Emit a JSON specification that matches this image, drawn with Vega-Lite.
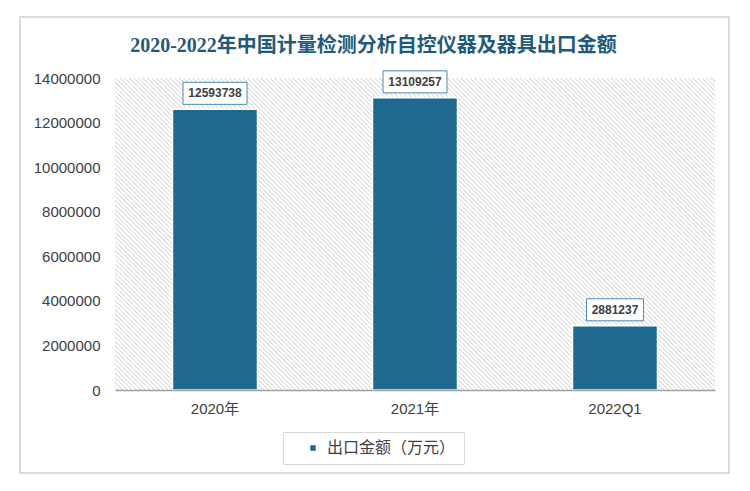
{
  "$schema": "https://vega.github.io/schema/vega-lite/v6.json",
  "autosize": {"type": "none"},
  "width": 709,
  "height": 456,
  "padding": {"left": 20, "top": 17, "right": 21, "bottom": 18},
  "background": "white",
  "config": {
    "view": {"stroke": "#d0d0d0", "strokeWidth": 1.5, "fill": "white"},
    "font": "Liberation Sans"
  },
  "title": {
    "text": "2020-2022年中国计量检测分析自控仪器及器具出口金额",
    "anchor": "middle",
    "frame": "group",
    "orient": "top",
    "offset": -39,
    "dx": -1,
    "fontSize": 20,
    "font": "Liberation Serif, Noto Sans CJK SC",
    "fontWeight": "bold",
    "color": "#1f5a7d"
  },
  "data": {
    "values": [
      {"cat": "2020年", "value": 12593738},
      {"cat": "2021年", "value": 13109257},
      {"cat": "2022Q1", "value": 2881237}
    ]
  },
  "encoding": {
    "x": {
      "field": "cat",
      "type": "nominal",
      "sort": null,
      "scale": {"range": [95, 695], "paddingInner": 0, "paddingOuter": 0},
      "axis": {
        "title": null,
        "offset": -83,
        "labelAngle": 0,
        "labelFontSize": 15,
        "labelColor": "#404040",
        "labelFont": "Liberation Sans, Noto Sans CJK SC",
        "labelPadding": 11,
        "ticks": false,
        "domainColor": "#a0a0a0",
        "domainWidth": 1.5,
        "grid": false
      }
    }
  },
  "layer": [
    {
      "mark": {
        "type": "rect",
        "fill": {
          "gradient": "linear",
          "x1": 0, "y1": 1, "x2": 0.8274, "y2": -0.2907,
          "stops": [
{"offset":0,"color":"#fff"},{"offset":0.004,"color":"#fff"},{"offset":0.006,"color":"#d2d2d2"},
{"offset":0.008,"color":"#fff"},{"offset":0.012,"color":"#fff"},{"offset":0.014,"color":"#d2d2d2"},
{"offset":0.016,"color":"#fff"},{"offset":0.02,"color":"#fff"},{"offset":0.022,"color":"#d2d2d2"},
{"offset":0.024,"color":"#fff"},{"offset":0.028,"color":"#fff"},{"offset":0.03,"color":"#d2d2d2"},
{"offset":0.032,"color":"#fff"},{"offset":0.036,"color":"#fff"},{"offset":0.038,"color":"#d2d2d2"},
{"offset":0.04,"color":"#fff"},{"offset":0.044,"color":"#fff"},{"offset":0.046,"color":"#d2d2d2"},
{"offset":0.048,"color":"#fff"},{"offset":0.052,"color":"#fff"},{"offset":0.054,"color":"#d2d2d2"},
{"offset":0.056,"color":"#fff"},{"offset":0.06,"color":"#fff"},{"offset":0.062,"color":"#d2d2d2"},
{"offset":0.064,"color":"#fff"},{"offset":0.068,"color":"#fff"},{"offset":0.07,"color":"#d2d2d2"},
{"offset":0.072,"color":"#fff"},{"offset":0.076,"color":"#fff"},{"offset":0.078,"color":"#d2d2d2"},
{"offset":0.08,"color":"#fff"},{"offset":0.084,"color":"#fff"},{"offset":0.086,"color":"#d2d2d2"},
{"offset":0.088,"color":"#fff"},{"offset":0.092,"color":"#fff"},{"offset":0.094,"color":"#d2d2d2"},
{"offset":0.096,"color":"#fff"},{"offset":0.1,"color":"#fff"},{"offset":0.102,"color":"#d2d2d2"},
{"offset":0.104,"color":"#fff"},{"offset":0.108,"color":"#fff"},{"offset":0.11,"color":"#d2d2d2"},
{"offset":0.112,"color":"#fff"},{"offset":0.116,"color":"#fff"},{"offset":0.118,"color":"#d2d2d2"},
{"offset":0.12,"color":"#fff"},{"offset":0.124,"color":"#fff"},{"offset":0.126,"color":"#d2d2d2"},
{"offset":0.128,"color":"#fff"},{"offset":0.132,"color":"#fff"},{"offset":0.134,"color":"#d2d2d2"},
{"offset":0.136,"color":"#fff"},{"offset":0.14,"color":"#fff"},{"offset":0.142,"color":"#d2d2d2"},
{"offset":0.144,"color":"#fff"},{"offset":0.148,"color":"#fff"},{"offset":0.15,"color":"#d2d2d2"},
{"offset":0.152,"color":"#fff"},{"offset":0.156,"color":"#fff"},{"offset":0.158,"color":"#d2d2d2"},
{"offset":0.16,"color":"#fff"},{"offset":0.164,"color":"#fff"},{"offset":0.166,"color":"#d2d2d2"},
{"offset":0.168,"color":"#fff"},{"offset":0.172,"color":"#fff"},{"offset":0.174,"color":"#d2d2d2"},
{"offset":0.176,"color":"#fff"},{"offset":0.18,"color":"#fff"},{"offset":0.182,"color":"#d2d2d2"},
{"offset":0.184,"color":"#fff"},{"offset":0.188,"color":"#fff"},{"offset":0.19,"color":"#d2d2d2"},
{"offset":0.192,"color":"#fff"},{"offset":0.196,"color":"#fff"},{"offset":0.198,"color":"#d2d2d2"},
{"offset":0.2,"color":"#fff"},{"offset":0.204,"color":"#fff"},{"offset":0.206,"color":"#d2d2d2"},
{"offset":0.208,"color":"#fff"},{"offset":0.212,"color":"#fff"},{"offset":0.214,"color":"#d2d2d2"},
{"offset":0.216,"color":"#fff"},{"offset":0.22,"color":"#fff"},{"offset":0.222,"color":"#d2d2d2"},
{"offset":0.224,"color":"#fff"},{"offset":0.228,"color":"#fff"},{"offset":0.23,"color":"#d2d2d2"},
{"offset":0.232,"color":"#fff"},{"offset":0.236,"color":"#fff"},{"offset":0.238,"color":"#d2d2d2"},
{"offset":0.24,"color":"#fff"},{"offset":0.244,"color":"#fff"},{"offset":0.246,"color":"#d2d2d2"},
{"offset":0.248,"color":"#fff"},{"offset":0.252,"color":"#fff"},{"offset":0.254,"color":"#d2d2d2"},
{"offset":0.256,"color":"#fff"},{"offset":0.26,"color":"#fff"},{"offset":0.262,"color":"#d2d2d2"},
{"offset":0.264,"color":"#fff"},{"offset":0.268,"color":"#fff"},{"offset":0.27,"color":"#d2d2d2"},
{"offset":0.272,"color":"#fff"},{"offset":0.276,"color":"#fff"},{"offset":0.278,"color":"#d2d2d2"},
{"offset":0.28,"color":"#fff"},{"offset":0.284,"color":"#fff"},{"offset":0.286,"color":"#d2d2d2"},
{"offset":0.288,"color":"#fff"},{"offset":0.292,"color":"#fff"},{"offset":0.294,"color":"#d2d2d2"},
{"offset":0.296,"color":"#fff"},{"offset":0.3,"color":"#fff"},{"offset":0.302,"color":"#d2d2d2"},
{"offset":0.304,"color":"#fff"},{"offset":0.308,"color":"#fff"},{"offset":0.31,"color":"#d2d2d2"},
{"offset":0.312,"color":"#fff"},{"offset":0.316,"color":"#fff"},{"offset":0.318,"color":"#d2d2d2"},
{"offset":0.32,"color":"#fff"},{"offset":0.324,"color":"#fff"},{"offset":0.326,"color":"#d2d2d2"},
{"offset":0.328,"color":"#fff"},{"offset":0.332,"color":"#fff"},{"offset":0.334,"color":"#d2d2d2"},
{"offset":0.336,"color":"#fff"},{"offset":0.34,"color":"#fff"},{"offset":0.342,"color":"#d2d2d2"},
{"offset":0.344,"color":"#fff"},{"offset":0.348,"color":"#fff"},{"offset":0.35,"color":"#d2d2d2"},
{"offset":0.352,"color":"#fff"},{"offset":0.356,"color":"#fff"},{"offset":0.358,"color":"#d2d2d2"},
{"offset":0.36,"color":"#fff"},{"offset":0.364,"color":"#fff"},{"offset":0.366,"color":"#d2d2d2"},
{"offset":0.368,"color":"#fff"},{"offset":0.372,"color":"#fff"},{"offset":0.374,"color":"#d2d2d2"},
{"offset":0.376,"color":"#fff"},{"offset":0.38,"color":"#fff"},{"offset":0.382,"color":"#d2d2d2"},
{"offset":0.384,"color":"#fff"},{"offset":0.388,"color":"#fff"},{"offset":0.39,"color":"#d2d2d2"},
{"offset":0.392,"color":"#fff"},{"offset":0.396,"color":"#fff"},{"offset":0.398,"color":"#d2d2d2"},
{"offset":0.4,"color":"#fff"},{"offset":0.404,"color":"#fff"},{"offset":0.406,"color":"#d2d2d2"},
{"offset":0.408,"color":"#fff"},{"offset":0.412,"color":"#fff"},{"offset":0.414,"color":"#d2d2d2"},
{"offset":0.416,"color":"#fff"},{"offset":0.42,"color":"#fff"},{"offset":0.422,"color":"#d2d2d2"},
{"offset":0.424,"color":"#fff"},{"offset":0.428,"color":"#fff"},{"offset":0.43,"color":"#d2d2d2"},
{"offset":0.432,"color":"#fff"},{"offset":0.436,"color":"#fff"},{"offset":0.438,"color":"#d2d2d2"},
{"offset":0.44,"color":"#fff"},{"offset":0.444,"color":"#fff"},{"offset":0.446,"color":"#d2d2d2"},
{"offset":0.448,"color":"#fff"},{"offset":0.452,"color":"#fff"},{"offset":0.454,"color":"#d2d2d2"},
{"offset":0.456,"color":"#fff"},{"offset":0.46,"color":"#fff"},{"offset":0.462,"color":"#d2d2d2"},
{"offset":0.464,"color":"#fff"},{"offset":0.468,"color":"#fff"},{"offset":0.47,"color":"#d2d2d2"},
{"offset":0.472,"color":"#fff"},{"offset":0.476,"color":"#fff"},{"offset":0.478,"color":"#d2d2d2"},
{"offset":0.48,"color":"#fff"},{"offset":0.484,"color":"#fff"},{"offset":0.486,"color":"#d2d2d2"},
{"offset":0.488,"color":"#fff"},{"offset":0.492,"color":"#fff"},{"offset":0.494,"color":"#d2d2d2"},
{"offset":0.496,"color":"#fff"},{"offset":0.5,"color":"#fff"},{"offset":0.502,"color":"#d2d2d2"},
{"offset":0.504,"color":"#fff"},{"offset":0.508,"color":"#fff"},{"offset":0.51,"color":"#d2d2d2"},
{"offset":0.512,"color":"#fff"},{"offset":0.516,"color":"#fff"},{"offset":0.518,"color":"#d2d2d2"},
{"offset":0.52,"color":"#fff"},{"offset":0.524,"color":"#fff"},{"offset":0.526,"color":"#d2d2d2"},
{"offset":0.528,"color":"#fff"},{"offset":0.532,"color":"#fff"},{"offset":0.534,"color":"#d2d2d2"},
{"offset":0.536,"color":"#fff"},{"offset":0.54,"color":"#fff"},{"offset":0.542,"color":"#d2d2d2"},
{"offset":0.544,"color":"#fff"},{"offset":0.548,"color":"#fff"},{"offset":0.55,"color":"#d2d2d2"},
{"offset":0.552,"color":"#fff"},{"offset":0.556,"color":"#fff"},{"offset":0.558,"color":"#d2d2d2"},
{"offset":0.56,"color":"#fff"},{"offset":0.564,"color":"#fff"},{"offset":0.566,"color":"#d2d2d2"},
{"offset":0.568,"color":"#fff"},{"offset":0.572,"color":"#fff"},{"offset":0.574,"color":"#d2d2d2"},
{"offset":0.576,"color":"#fff"},{"offset":0.58,"color":"#fff"},{"offset":0.582,"color":"#d2d2d2"},
{"offset":0.584,"color":"#fff"},{"offset":0.588,"color":"#fff"},{"offset":0.59,"color":"#d2d2d2"},
{"offset":0.592,"color":"#fff"},{"offset":0.596,"color":"#fff"},{"offset":0.598,"color":"#d2d2d2"},
{"offset":0.6,"color":"#fff"},{"offset":0.604,"color":"#fff"},{"offset":0.606,"color":"#d2d2d2"},
{"offset":0.608,"color":"#fff"},{"offset":0.612,"color":"#fff"},{"offset":0.614,"color":"#d2d2d2"},
{"offset":0.616,"color":"#fff"},{"offset":0.62,"color":"#fff"},{"offset":0.622,"color":"#d2d2d2"},
{"offset":0.624,"color":"#fff"},{"offset":0.628,"color":"#fff"},{"offset":0.63,"color":"#d2d2d2"},
{"offset":0.632,"color":"#fff"},{"offset":0.636,"color":"#fff"},{"offset":0.638,"color":"#d2d2d2"},
{"offset":0.64,"color":"#fff"},{"offset":0.644,"color":"#fff"},{"offset":0.646,"color":"#d2d2d2"},
{"offset":0.648,"color":"#fff"},{"offset":0.652,"color":"#fff"},{"offset":0.654,"color":"#d2d2d2"},
{"offset":0.656,"color":"#fff"},{"offset":0.66,"color":"#fff"},{"offset":0.662,"color":"#d2d2d2"},
{"offset":0.664,"color":"#fff"},{"offset":0.668,"color":"#fff"},{"offset":0.67,"color":"#d2d2d2"},
{"offset":0.672,"color":"#fff"},{"offset":0.676,"color":"#fff"},{"offset":0.678,"color":"#d2d2d2"},
{"offset":0.68,"color":"#fff"},{"offset":0.684,"color":"#fff"},{"offset":0.686,"color":"#d2d2d2"},
{"offset":0.688,"color":"#fff"},{"offset":0.692,"color":"#fff"},{"offset":0.694,"color":"#d2d2d2"},
{"offset":0.696,"color":"#fff"},{"offset":0.7,"color":"#fff"},{"offset":0.702,"color":"#d2d2d2"},
{"offset":0.704,"color":"#fff"},{"offset":0.708,"color":"#fff"},{"offset":0.71,"color":"#d2d2d2"},
{"offset":0.712,"color":"#fff"},{"offset":0.716,"color":"#fff"},{"offset":0.718,"color":"#d2d2d2"},
{"offset":0.72,"color":"#fff"},{"offset":0.724,"color":"#fff"},{"offset":0.726,"color":"#d2d2d2"},
{"offset":0.728,"color":"#fff"},{"offset":0.732,"color":"#fff"},{"offset":0.734,"color":"#d2d2d2"},
{"offset":0.736,"color":"#fff"},{"offset":0.74,"color":"#fff"},{"offset":0.742,"color":"#d2d2d2"},
{"offset":0.744,"color":"#fff"},{"offset":0.748,"color":"#fff"},{"offset":0.75,"color":"#d2d2d2"},
{"offset":0.752,"color":"#fff"},{"offset":0.756,"color":"#fff"},{"offset":0.758,"color":"#d2d2d2"},
{"offset":0.76,"color":"#fff"},{"offset":0.764,"color":"#fff"},{"offset":0.766,"color":"#d2d2d2"},
{"offset":0.768,"color":"#fff"},{"offset":0.772,"color":"#fff"},{"offset":0.774,"color":"#d2d2d2"},
{"offset":0.776,"color":"#fff"},{"offset":0.78,"color":"#fff"},{"offset":0.782,"color":"#d2d2d2"},
{"offset":0.784,"color":"#fff"},{"offset":0.788,"color":"#fff"},{"offset":0.79,"color":"#d2d2d2"},
{"offset":0.792,"color":"#fff"},{"offset":0.796,"color":"#fff"},{"offset":0.798,"color":"#d2d2d2"},
{"offset":0.8,"color":"#fff"},{"offset":0.804,"color":"#fff"},{"offset":0.806,"color":"#d2d2d2"},
{"offset":0.808,"color":"#fff"},{"offset":0.812,"color":"#fff"},{"offset":0.814,"color":"#d2d2d2"},
{"offset":0.816,"color":"#fff"},{"offset":0.82,"color":"#fff"},{"offset":0.822,"color":"#d2d2d2"},
{"offset":0.824,"color":"#fff"},{"offset":0.828,"color":"#fff"},{"offset":0.83,"color":"#d2d2d2"},
{"offset":0.832,"color":"#fff"},{"offset":0.836,"color":"#fff"},{"offset":0.838,"color":"#d2d2d2"},
{"offset":0.84,"color":"#fff"},{"offset":0.844,"color":"#fff"},{"offset":0.846,"color":"#d2d2d2"},
{"offset":0.848,"color":"#fff"},{"offset":0.852,"color":"#fff"},{"offset":0.854,"color":"#d2d2d2"},
{"offset":0.856,"color":"#fff"},{"offset":0.86,"color":"#fff"},{"offset":0.862,"color":"#d2d2d2"},
{"offset":0.864,"color":"#fff"},{"offset":0.868,"color":"#fff"},{"offset":0.87,"color":"#d2d2d2"},
{"offset":0.872,"color":"#fff"},{"offset":0.876,"color":"#fff"},{"offset":0.878,"color":"#d2d2d2"},
{"offset":0.88,"color":"#fff"},{"offset":0.884,"color":"#fff"},{"offset":0.886,"color":"#d2d2d2"},
{"offset":0.888,"color":"#fff"},{"offset":0.892,"color":"#fff"},{"offset":0.894,"color":"#d2d2d2"},
{"offset":0.896,"color":"#fff"},{"offset":0.9,"color":"#fff"},{"offset":0.902,"color":"#d2d2d2"},
{"offset":0.904,"color":"#fff"},{"offset":0.908,"color":"#fff"},{"offset":0.91,"color":"#d2d2d2"},
{"offset":0.912,"color":"#fff"}
          ]
        }
      },
      "encoding": {
        "y": {"datum": 14000000, "type": "quantitative"},
        "y2": {"datum": 0}
      }
    },
    {
      "mark": {"type": "bar", "width": {"band": 0.425}, "stroke": "white", "strokeWidth": 1.5},
      "encoding": {
        "y": {
          "field": "value",
          "type": "quantitative",
          "scale": {"domain": [0, 14000000], "range": [373, 61], "nice": false},
          "axis": {
            "title": null,
            "offset": -95,
            "values": [0, 2000000, 4000000, 6000000, 8000000, 10000000, 12000000, 14000000],
            "format": "d",
            "labelFontSize": 15,
            "labelColor": "#404040",
            "labelPadding": 15,
            "ticks": false,
            "domain": false,
            "grid": false
          }
        },
        "color": {
          "datum": "出口金额（万元）",
          "scale": {"range": ["#1d6a8e"]},
          "legend": {
            "title": null,
            "orient": "none",
            "legendX": 263,
            "legendY": 415,
            "direction": "horizontal",
            "strokeColor": "#d9d9d9",
            "padding": 8,
            "symbolType": "square",
            "symbolSize": 49,
            "symbolOffset": 14,
            "labelOffset": 6,
            "labelFontSize": 16,
            "labelFont": "Noto Sans CJK SC",
            "labelColor": "#404040",
            "labelLimit": 300
          }
        }
      }
    },
    {
      "mark": {"type": "point", "filled": false, "fill": "white", "fillOpacity": 1, "stroke": "#4a8ab3", "strokeWidth": 1, "opacity": 1, "size": 4096, "yOffset": -16},
      "encoding": {
        "y": {"field": "value", "type": "quantitative"},
        "shape": {
          "condition": {"test": "datum.value < 10000000", "value": "M-0.89,-0.344H0.89V0.344H-0.89Z"},
          "value": "M-1,-0.344H1V0.344H-1Z"
        }
      }
    },
    {
      "mark": {"type": "text", "yOffset": -16, "baseline": "middle", "fontSize": 12, "fontWeight": "bold", "color": "#404040", "font": "Liberation Sans"},
      "encoding": {
        "y": {"field": "value", "type": "quantitative"},
        "text": {"field": "value", "type": "quantitative", "format": "d"}
      }
    }
  ]
}
